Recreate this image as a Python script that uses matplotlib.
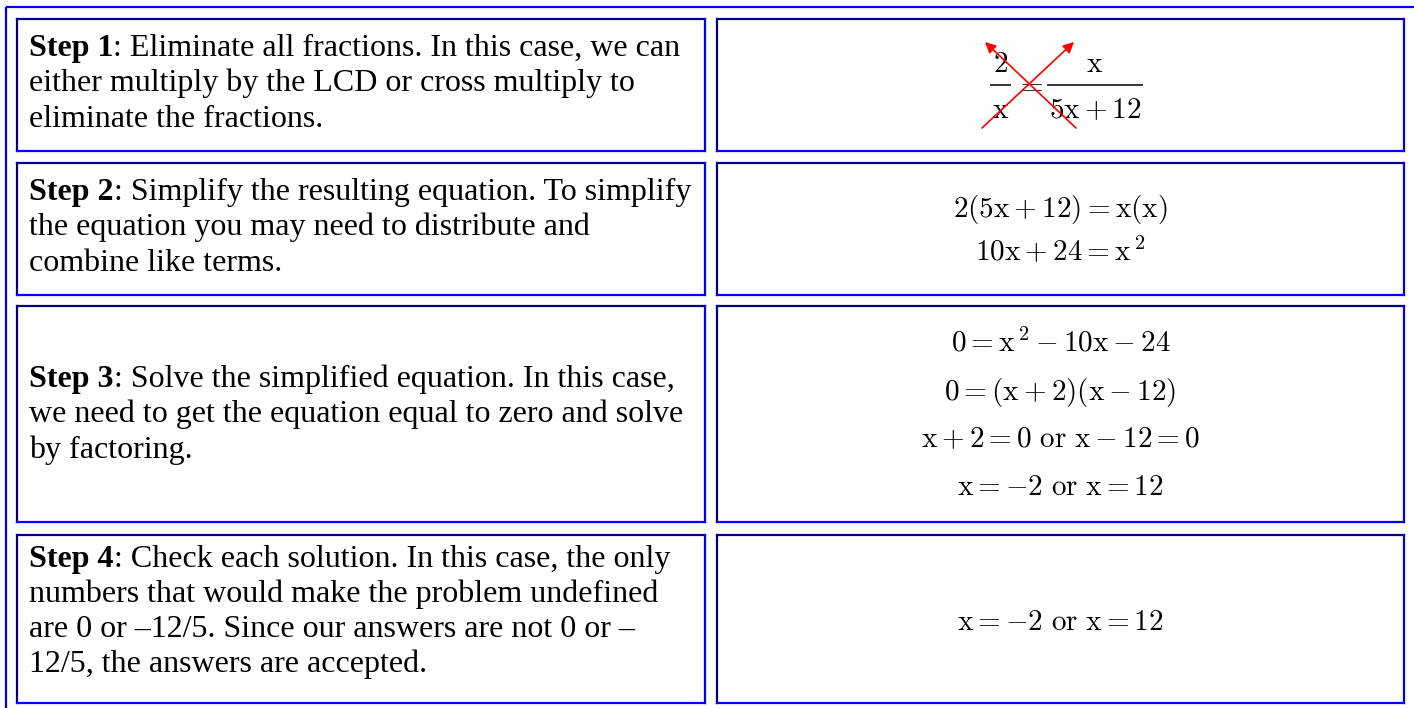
import matplotlib
matplotlib.use("Agg")
import matplotlib.pyplot as plt

plt.rcParams['mathtext.fontset'] = 'cm'

# ============================================================
# Contenu du tableau
# ============================================================

step_labels = ["Step 1", "Step 2", "Step 3", "Step 4"]

step_lines = [
    [": Eliminate all fractions. In this case, we can",
     "either multiply by the LCD or cross multiply to",
     "eliminate the fractions."],
    [": Simplify the resulting equation. To simplify",
     "the equation you may need to distribute and",
     "combine like terms."],
    [": Solve the simplified equation. In this case,",
     "we need to get the equation equal to zero and solve",
     "by factoring."],
    [": Check each solution. In this case, the only",
     "numbers that would make the problem undefined",
     "are 0 or \u201312/5. Since our answers are not 0 or \u2013",
     "12/5, the answers are accepted."],
]

# étape 1 : fractions (numérateur, dénominateur)
frac_left = (r"$2$", r"$\mathrm{x}$")
frac_right = (r"$\mathrm{x}$", r"$5\mathrm{x}+12$")

equations = [
    [],
    [r"$2(5\mathrm{x}+12)=\mathrm{x}(\mathrm{x})$",
     r"$10\mathrm{x}+24=\mathrm{x}^{\,2}$"],
    [r"$0=\mathrm{x}^{\,2}-10\mathrm{x}-24$",
     r"$0=(\mathrm{x}+2)(\mathrm{x}-12)$",
     r"$\mathrm{x}+2=0\ \mathrm{or}\ \mathrm{x}-12=0$",
     r"$\mathrm{x}=-2\ \mathrm{or}\ \mathrm{x}=12$"],
    [r"$\mathrm{x}=-2\ \mathrm{or}\ \mathrm{x}=12$"],
]

# ============================================================
# Mise en page (pixels)
# ============================================================

W, H = 1414, 708
row_tops = [19, 163, 306, 535]
row_bottoms = [151, 295, 522, 703]
col_left = (17, 705)
col_right = (717, 1404)

text_baselines = [[56, 91, 127], [200, 235, 271], [387, 422, 458], [567, 602, 637, 672]]
eq_baselines = [[], [217, 260], [352, 400, 447, 495], [630]]

NAVY = "#000080"
BLUE = "#0000ff"

fig = plt.figure(figsize=(W / 100, H / 100), dpi=100)
ax = fig.add_axes([0, 0, 1, 1])
ax.set_xlim(0, W)
ax.set_ylim(H, 0)
ax.axis('off')

# bordure extérieure
ax.plot([6, W + 5], [7, 7], color=BLUE, lw=1.6, solid_capstyle='butt')
ax.plot([6, 6], [7, H + 5], color=BLUE, lw=1.6, solid_capstyle='butt')


def cellule(x0, x1, y0, y1):
    ax.plot([x0, x1], [y0, y0], color=NAVY, lw=1.6, solid_capstyle='projecting')
    ax.plot([x0, x0], [y0, y1], color=NAVY, lw=1.6, solid_capstyle='projecting')
    ax.plot([x0, x1], [y1, y1], color=BLUE, lw=1.6, solid_capstyle='projecting')
    ax.plot([x1, x1], [y0, y1], color=BLUE, lw=1.6, solid_capstyle='projecting')


for y0, y1 in zip(row_tops, row_bottoms):
    cellule(col_left[0], col_left[1], y0, y1)
    cellule(col_right[0], col_right[1], y0, y1)

renderer = fig.canvas.get_renderer()
font = dict(family="Liberation Serif", size=23, color="black")

# colonne de gauche
for label, lines, ys in zip(step_labels, step_lines, text_baselines):
    t = ax.text(29, ys[0], label, va='baseline', ha='left', weight='bold', **font)
    w = t.get_window_extent(renderer).width
    ax.text(29 + w, ys[0], lines[0], va='baseline', ha='left', **font)
    for line, y in zip(lines[1:], ys[1:]):
        ax.text(29, y, line, va='baseline', ha='left', **font)

# colonne de droite
eq_size = 21
xc = (col_right[0] + col_right[1]) / 2


def fraction(num, den, x0, x1, ybar):
    xm = (x0 + x1) / 2
    ax.text(xm, ybar - 13, num, ha='center', va='baseline', fontsize=eq_size)
    ax.text(xm, ybar + 33, den, ha='center', va='baseline', fontsize=eq_size)
    ax.plot([x0, x1], [ybar, ybar], color='black', lw=1.1, solid_capstyle='butt')


fraction(frac_left[0], frac_left[1], 990, 1011, 85)
ax.text(1029, 85, r"$=$", ha='center', va='center', fontsize=eq_size)
fraction(frac_right[0], frac_right[1], 1047, 1143, 85)

for eqs, ys in zip(equations, eq_baselines):
    for eq, y in zip(eqs, ys):
        ax.text(xc, y, eq, ha='center', va='baseline', fontsize=eq_size)

# flèches du produit croisé
arrow = dict(arrowstyle='-|>', color='red', lw=1.2, mutation_scale=16,
             shrinkA=0, shrinkB=0)
ax.annotate('', xy=(1074, 42), xytext=(982, 128), arrowprops=arrow)
ax.annotate('', xy=(985, 42), xytext=(1076, 128), arrowprops=arrow)

fig.savefig("out.png", dpi=100)
